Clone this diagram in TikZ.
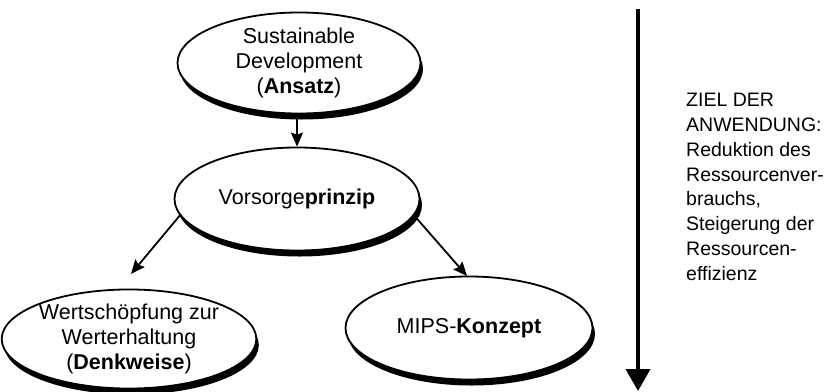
\documentclass[tikz,border=0pt]{standalone}
\usepackage{fontspec}
\setmainfont{Liberation Sans}
\usetikzlibrary{shapes.geometric,shadows,arrows.meta}

\begin{document}
\begin{tikzpicture}[x=1pt,y=-1pt,
  concept/.style={ellipse, draw, line width=1.8pt, fill=white, inner sep=0pt,
    align=center, font=\fontsize{21.5}{25}\selectfont,
    drop shadow={opacity=1, fill=black, shadow xshift=2.5pt, shadow yshift=-6pt}},
  link/.style={line width=1.8pt, -{Stealth[length=14pt,width=12pt,inset=2pt]}},
  goalarrow/.style={line width=4pt, -{Triangle[length=22pt,width=24pt]}},
  goaltext/.style={align=left, inner sep=0pt, anchor=north west,
    font=\fontsize{19.5}{24.8}\selectfont}]

  \useasboundingbox (0,0) rectangle (824,391);

  % concept ellipses
  \node[concept, minimum width=243pt, minimum height=101pt] (sd) at (299,63)
    {Sustainable\\Development\\(\textbf{Ansatz})};
  \node[concept, minimum width=245pt, minimum height=103pt] (vp) at (297,199)
    {Vorsorge\textbf{prinzip}};
  \node[concept, minimum width=244pt, minimum height=92pt] (wz) at (129,339)
    {Wertschöpfung zur\\Werterhaltung\\(\textbf{Denkweise})};
  \node[concept, minimum width=247pt, minimum height=103pt] (mips) at (469,328)
    {MIPS-\textbf{Konzept}};

  % connectors
  \coordinate (wzin) at (131,274);
  \coordinate (mipsin) at (467,276);
  \draw[link] (vp.north |- sd.south) -- (vp.north);
  \draw[link] (vp.188) -- (wzin);
  \draw[link] (vp.352) -- (mipsin);

  % goal of application
  \coordinate (goaltop) at (638,9);
  \coordinate (goalend) at (638,391);
  \draw[goalarrow] (goaltop) -- (goalend);
  \node[goaltext] (goal) at (686,93)
    {ZIEL DER\\ANWENDUNG:\\Reduktion des\\Ressourcenver-\\brauchs,\\Steigerung der\\Ressourcen-\\effizienz};
\end{tikzpicture}
\end{document}
